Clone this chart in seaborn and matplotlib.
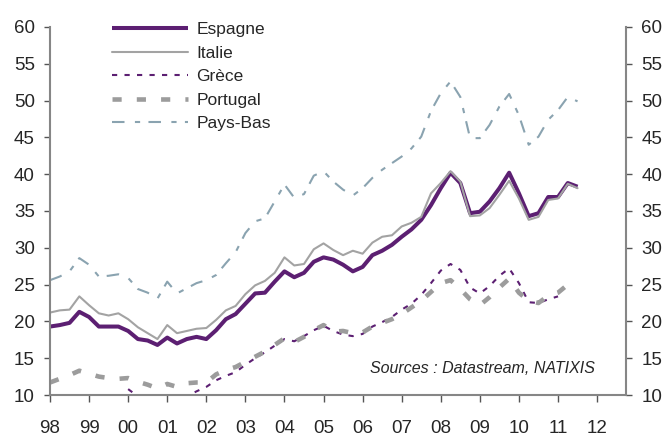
import numpy as np
import pandas as pd
import seaborn as sns
from matplotlib import pyplot as plt

nan = np.nan

# quarterly points, 1998Q1 .. 2011Q3
years = ['98', '99', '00', '01', '02', '03', '04', '05', '06', '07', '08', '09', '10', '11', '12']

espagne = [19.3, 19.5, 19.8, 21.3, 20.6, 19.3, 19.3, 19.3,
           18.7, 17.6, 17.4, 16.8, 17.8, 17.0, 17.6, 17.9,
           17.6, 18.8, 20.3, 21.0, 22.4, 23.8, 23.9, 25.4,
           26.8, 26.0, 26.6, 28.1, 28.7, 28.4, 27.7, 26.8,
           27.4, 29.0, 29.6, 30.4, 31.5, 32.5, 33.8, 35.8,
           38.1, 40.2, 38.8, 34.7, 34.9, 36.3, 38.1, 40.2,
           37.4, 34.3, 34.7, 36.9, 36.9, 38.8, 38.3]

italie = [21.2, 21.5, 21.6, 23.4, 22.2, 21.1, 20.8, 21.1,
          20.3, 19.2, 18.4, 17.6, 19.5, 18.4, 18.7, 19.0,
          19.1, 20.2, 21.5, 22.1, 23.7, 24.9, 25.5, 26.6,
          28.7, 27.6, 27.8, 29.8, 30.6, 29.7, 29.0, 29.6,
          29.2, 30.7, 31.5, 31.7, 32.9, 33.4, 34.2, 37.4,
          38.8, 40.4, 39.0, 34.3, 34.4, 35.4, 37.2, 39.1,
          36.7, 33.8, 34.2, 36.5, 36.7, 38.7, 38.1]

grece = [nan, nan, nan, nan, nan, nan, nan, nan,
         10.8, 9.8, 9.0, 9.2, 10.1, 9.5, 9.8, 10.5,
         11.1, 12.0, 12.6, 13.1, 14.1, 15.0, 15.8, 16.7,
         17.6, 17.3, 18.0, 18.8, 19.4, 18.7, 18.2, 18.0,
         18.3, 19.3, 19.9, 20.6, 21.6, 22.4, 23.6, 25.2,
         26.9, 27.8, 27.0, 24.6, 23.8, 24.8, 26.2, 27.2,
         25.2, 22.6, 22.5, 23.0, 23.4, nan, nan]

portugal = [11.7, 12.2, 12.7, 13.3, 12.9, 12.5, 12.3, 12.2,
            12.3, 11.8, 11.4, 10.9, 11.5, 11.1, 11.6, 11.7,
            11.7, 12.8, 13.4, 13.8, 14.5, 15.2, 15.9, 16.8,
            17.7, 17.2, 17.9, 18.8, 19.5, 18.6, 18.7, 18.4,
            18.5, 19.3, 19.8, 20.3, 21.0, 21.9, 22.8, 24.0,
            25.2, 25.6, 24.4, 23.0, 22.2, 23.3, 24.6, 25.8,
            23.9, 22.8, 22.5, 23.5, 23.9, 25.0, nan]

pays_bas = [25.6, 26.1, 26.8, 28.6, 27.7, 26.1, 26.2, 26.4,
            25.9, 24.4, 23.9, 23.1, 25.4, 23.8, 24.5, 25.2,
            25.6, 26.3, 27.9, 29.4, 32.0, 33.6, 34.0, 36.3,
            38.6, 36.8, 37.3, 39.8, 40.4, 39.0, 37.9, 37.1,
            38.1, 39.5, 40.6, 41.5, 42.4, 43.5, 45.1, 48.6,
            51.0, 52.6, 50.5, 44.9, 44.9, 46.7, 49.2, 50.9,
            48.0, 44.0, 45.1, 47.4, 48.7, 50.5, 49.9]

t = 1998 + np.arange(len(espagne)) / 4
df = pd.DataFrame({'t': t, 'Espagne': espagne, 'Italie': italie, 'Grèce': grece,
                   'Portugal': portugal, 'Pays-Bas': pays_bas})

sns.set_theme(style='white')
plt.rcParams['font.family'] = ['Liberation Sans', 'DejaVu Sans']

fig = plt.figure(figsize=(6.67, 4.36), dpi=100)
ax = fig.add_axes([50 / 667, 1 - 395 / 436, 576 / 667, 368 / 436])

purple = '#5c1f72'
styles = {
    'Espagne': dict(color=purple, linewidth=2.9, solid_capstyle='butt'),
    'Italie': dict(color='#a3a3a3', linewidth=1.5),
    'Grèce': dict(color=purple, linewidth=1.5, dashes=(2.5, 3.5)),
    'Portugal': dict(color='#9c9c9c', linewidth=3.3, dashes=(2.0, 3.3)),
    'Pays-Bas': dict(color='#8aa3b0', linewidth=1.5, dashes=(6, 5, 2.5, 4)),
}
for name, kw in styles.items():
    sns.lineplot(data=df, x='t', y=name, ax=ax, label=name, **kw)

ax.set_xlim(1998, 2012.74)
ax.set_ylim(10, 60)
ax.set_xticks(np.arange(1998, 2013))
ax.set_xticklabels(years)
ax.set_yticks(np.arange(10, 61, 5))
ax.set_xlabel('')
ax.set_ylabel('')

for side in ['left', 'right', 'bottom']:
    ax.spines[side].set_color('#868686')
    ax.spines[side].set_linewidth(1.5)
ax.spines['top'].set_visible(False)

ax.tick_params(axis='y', which='major', direction='out', length=4, width=1, color='#555555',
               left=True, right=True, labelleft=True, labelright=True, labelsize=13.5, pad=7)
ax.tick_params(axis='x', which='major', direction='out', length=5, width=1, color='#555555',
               bottom=True, labelsize=13.5, pad=13)

ax.text(0.946, 0.073, 'Sources : Datastream, NATIXIS', transform=ax.transAxes,
        ha='right', va='center', fontsize=11.5, style='italic')

ax.legend(loc='upper left', bbox_to_anchor=(112 / 667, 1 - 22 / 436), bbox_transform=fig.transFigure,
          frameon=False, fontsize=12.5, handlelength=4.4, handletextpad=0.45, labelspacing=0.48,
          borderpad=0, borderaxespad=0)

fig.savefig('out.png', dpi=100)
